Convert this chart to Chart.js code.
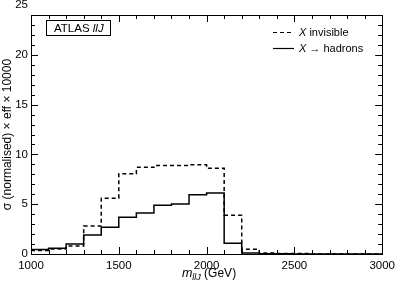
<!DOCTYPE html>
<html>
<head>
<meta charset="utf-8">
<script src="https://cdn.jsdelivr.net/npm/chart.js@4"></script>
<style>
html,body{margin:0;padding:0;background:#fff;}
#c{display:block;}
</style>
</head>
<body>
<canvas id="c" width="400" height="284"></canvas>
<script>
// ---- data ----
const binEdges = [1000,1100,1200,1300,1400,1500,1600,1700,1800,1900,2000,2100,2200,2300,2400,2500,2600,2700,2800,2900,3000];
const xInvisible = [0.35,0.5,0.8,2.8,5.6,8.05,8.7,8.88,8.88,8.95,8.6,3.9,0.47,0.1,0.05,0.05,0,0,0,0];
const xHadrons   = [0.45,0.57,1.0,1.9,2.68,3.68,4.12,4.9,5.03,5.96,6.13,1.07,0.1,0.03,0.02,0,0,0,0,0];
const xTickValues = [1000,1500,2000,2500,3000];
const xTickLabels = ['1000','1500','2000','2500','3000'];
const yTickValues = [0,5,10,15,20,25];
const yTickLabels = ['0','5','10','15','20','25'];
const legendLabels = [['X',' invisible'],['X',' \u2192 hadrons']];

const NARROW = "'Liberation Sans Narrow','Liberation Sans',Arial,sans-serif";
const SANS = "'Liberation Sans',Arial,sans-serif";

function stepPoints(vals){
  const pts = vals.map((v,i)=>({x:binEdges[i], y:v}));
  pts.push({x:binEdges[binEdges.length-1], y:vals[vals.length-1]});
  return pts;
}

const decor = {
  id:'decor',
  afterDraw(chart){
    const ctx = chart.ctx, a = chart.chartArea, xs = chart.scales.x, ys = chart.scales.y;
    ctx.save();
    ctx.strokeStyle = '#000';
    ctx.lineWidth = 1;
    // frame
    ctx.strokeRect(Math.round(a.left)+0.5, Math.round(a.top)+0.5, Math.round(a.right-a.left), Math.round(a.bottom-a.top));
    // ticks (inward, all four sides)
    ctx.beginPath();
    for (let v=1000; v<=3000; v+=100){
      const px = Math.round(xs.getPixelForValue(v))+0.5;
      const len = (v%500===0)?7:4;
      ctx.moveTo(px, a.bottom); ctx.lineTo(px, a.bottom-len);
      ctx.moveTo(px, a.top); ctx.lineTo(px, a.top+len);
    }
    for (let v=0; v<=24; v+=1){
      const py = Math.round(ys.getPixelForValue(v))+0.5;
      const len = (v%5===0)?7:4;
      ctx.moveTo(a.left, py); ctx.lineTo(a.left+len, py);
      ctx.moveTo(a.right, py); ctx.lineTo(a.right-len, py);
    }
    ctx.stroke();

    // ATLAS box
    ctx.strokeRect(46.5, 20.5, 64, 15);
    ctx.fillStyle = '#000';
    ctx.textBaseline = 'middle';
    ctx.textAlign = 'left';
    ctx.font = "11.5px " + NARROW;
    let tx = 54;
    ctx.fillText('ATLAS ', tx, 28.5);
    tx += ctx.measureText('ATLAS ').width;
    ctx.font = "italic 11.5px " + NARROW;
    ctx.fillText('llJ', tx, 28.5);

    // legend
    const rows = [{y:32.5, dash:[4,3]},{y:48.5, dash:[]}];
    rows.forEach((r,i)=>{
      ctx.setLineDash(r.dash);
      ctx.lineWidth = 1.2;
      ctx.beginPath(); ctx.moveTo(273, r.y); ctx.lineTo(294, r.y); ctx.stroke();
      ctx.setLineDash([]);
      let lx = 299;
      ctx.font = "italic 11px " + NARROW;
      ctx.fillText(legendLabels[i][0], lx, r.y);
      lx += ctx.measureText(legendLabels[i][0]).width;
      ctx.font = "11px " + NARROW;
      ctx.fillText(legendLabels[i][1], lx, r.y);
    });

    // x title: m_llJ (GeV)
    const parts = [
      {t:'m', f:"italic 12.5px "+NARROW, dy:0},
      {t:'llJ', f:"italic 9px "+NARROW, dy:3},
      {t:' (GeV)', f:"12px "+NARROW, dy:0}
    ];
    let w = 0;
    parts.forEach(p=>{ctx.font=p.f; p.w=ctx.measureText(p.t).width; w+=p.w;});
    let sx = 209 - w/2;
    ctx.textBaseline = 'alphabetic';
    parts.forEach(p=>{ctx.font=p.f; ctx.fillText(p.t, sx, 277+p.dy); sx+=p.w;});
    ctx.restore();
  }
};

new Chart(document.getElementById('c'), {
  type:'line',
  data:{
    datasets:[
      {label:'X invisible', data:stepPoints(xInvisible), stepped:true, borderColor:'#000', borderWidth:1.5, borderDash:[4,3], pointRadius:0, fill:false},
      {label:'X \u2192 hadrons', data:stepPoints(xHadrons), stepped:true, borderColor:'#000', borderWidth:1.5, pointRadius:0, fill:false}
    ]
  },
  options:{
    responsive:false,
    animation:false,
    devicePixelRatio:1,
    layout:{padding:{top:15, right:13, left:0, bottom:0}},
    plugins:{legend:{display:false}, tooltip:{enabled:false}},
    scales:{
      x:{
        type:'linear', min:1000, max:3000,
        grid:{display:false, drawTicks:false},
        border:{display:false},
        afterBuildTicks(s){ s.ticks = xTickValues.map(v=>({value:v})); },
        afterFit(s){ s.height = 30; },
        ticks:{autoSkip:false, maxRotation:0, padding:5, color:'#000',
          font:{family:NARROW, size:11.5},
          callback:(v)=>{const i=xTickValues.indexOf(v); return i>=0?xTickLabels[i]:'';}}
      },
      y:{
        type:'linear', min:0, max:24,
        grid:{display:false, drawTicks:false},
        border:{display:false},
        afterBuildTicks(s){ s.ticks = yTickValues.map(v=>({value:v})); },
        afterFit(s){ s.width = 31; },
        ticks:{autoSkip:false, padding:3, color:'#000',
          font:{family:NARROW, size:11.5},
          callback:(v)=>{const i=yTickValues.indexOf(v); return i>=0?yTickLabels[i]:'';}},
        title:{display:true, text:'\u03c3 (normalised) \u00d7 eff \u00d7 10000', color:'#000',
          font:{family:SANS, size:12}, padding:{top:0,bottom:0}}
      }
    }
  },
  plugins:[decor]
});
</script>
</body>
</html>
